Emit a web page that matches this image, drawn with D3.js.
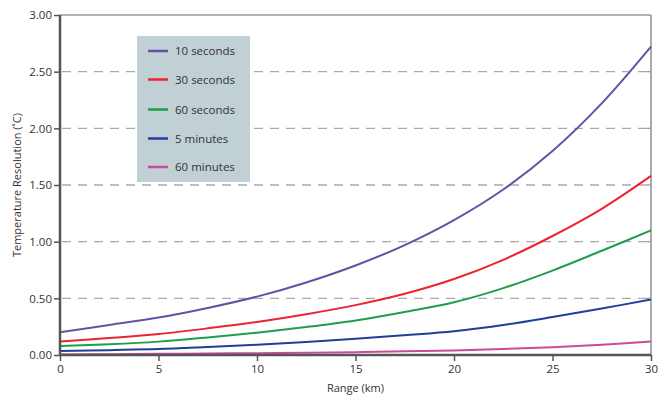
<!DOCTYPE html>
<html>
<head>
<meta charset="utf-8">
<script src="https://cdn.jsdelivr.net/npm/d3@7"></script>
<style>
  body { margin: 0; background: #fff; }
  svg { display: block; font-family: "Open Sans", "Liberation Sans", sans-serif; }
</style>
</head>
<body>
<div id="chart"></div>
<script>
// Range (km) sample points
const range = [0, 2.5, 5, 7.5, 10, 12.5, 15, 17.5, 20, 22.5, 25, 27.5, 30];

// Temperature resolution (°C) per integration time
const tenSeconds    = [0.20, 0.265, 0.33, 0.415, 0.515, 0.64, 0.79, 0.97, 1.19, 1.46, 1.80, 2.22, 2.72];
const thirtySeconds = [0.12, 0.15, 0.185, 0.235, 0.292, 0.36, 0.44, 0.54, 0.67, 0.84, 1.05, 1.29, 1.58];
const sixtySeconds  = [0.08, 0.095, 0.118, 0.155, 0.197, 0.247, 0.305, 0.38, 0.465, 0.59, 0.745, 0.92, 1.10];
const fiveMinutes   = [0.035, 0.043, 0.052, 0.07, 0.09, 0.115, 0.143, 0.175, 0.21, 0.265, 0.335, 0.41, 0.49];
const sixtyMinutes  = [0.005, 0.007, 0.01, 0.013, 0.016, 0.02, 0.025, 0.032, 0.04, 0.053, 0.068, 0.09, 0.12];

const seriesNames = ['10 seconds', '30 seconds', '60 seconds', '5 minutes', '60 minutes'];
const seriesColors = ['#6650a6', '#ee2230', '#1d9f4a', '#1f3f98', '#cc4a9b'];
const seriesValues = [tenSeconds, thirtySeconds, sixtySeconds, fiveMinutes, sixtyMinutes];

const xTicks = [0, 5, 10, 15, 20, 25, 30];
const yTicks = [0, 0.5, 1, 1.5, 2, 2.5, 3];

const width = 668, height = 400;
const margin = { top: 15, right: 17, bottom: 45, left: 60 };

const svg = d3.select('#chart').append('svg')
    .attr('width', width)
    .attr('height', height);

const x = d3.scaleLinear().domain([0, 30]).range([margin.left, width - margin.right]);
const y = d3.scaleLinear().domain([0, 3]).range([height - margin.bottom, margin.top]);

// Dashed grid lines
svg.append('g')
    .selectAll('line')
    .data(yTicks.filter(d => d > 0 && d < 3))
    .enter().append('line')
    .attr('x1', x(0) + 2)
    .attr('x2', x(30))
    .attr('y1', d => y(d))
    .attr('y2', d => y(d))
    .attr('stroke', '#aaaaaa')
    .attr('stroke-width', 1.3)
    .attr('stroke-dasharray', '9,7');

// Top and right frame
svg.append('line')
    .attr('x1', x(0)).attr('x2', x(30))
    .attr('y1', y(3)).attr('y2', y(3))
    .attr('stroke', '#999').attr('stroke-width', 1.5);
svg.append('line')
    .attr('x1', x(30)).attr('x2', x(30))
    .attr('y1', y(3)).attr('y2', y(0))
    .attr('stroke', '#aaa').attr('stroke-width', 2);

// Legend box (drawn over the grid)
const legend = svg.append('g').attr('transform', 'translate(137,36)');
legend.append('rect')
    .attr('width', 113)
    .attr('height', 146)
    .attr('fill', '#c0d0d4');

const rowY = [15, 43.5, 73.5, 102.5, 131];
seriesNames.forEach((name, i) => {
    legend.append('line')
        .attr('x1', 11).attr('x2', 31)
        .attr('y1', rowY[i]).attr('y2', rowY[i])
        .attr('stroke', seriesColors[i])
        .attr('stroke-width', 2.5);
    legend.append('text')
        .attr('x', 38)
        .attr('y', rowY[i])
        .attr('dy', '0.35em')
        .attr('font-size', '11.5px')
        .attr('fill', '#333')
        .text(name);
});

// Curves
const line = d3.line()
    .x((d, i) => x(range[i]))
    .y(d => y(d))
    .curve(d3.curveCatmullRom.alpha(0.5));

seriesValues.slice().reverse().forEach((vals, j) => {
    const i = seriesValues.length - 1 - j;
    svg.append('path')
        .datum(vals)
        .attr('d', line)
        .attr('fill', 'none')
        .attr('stroke', seriesColors[i])
        .attr('stroke-width', 2);
});

// Axes
const xAxis = svg.append('g')
    .attr('transform', `translate(0,${y(0)})`)
    .call(d3.axisBottom(x).tickValues(xTicks).tickSize(6).tickPadding(4).tickFormat(d3.format('d')));
const yAxis = svg.append('g')
    .attr('transform', `translate(${x(0)},0)`)
    .call(d3.axisLeft(y).tickValues(yTicks).tickSize(6).tickPadding(2).tickFormat(d3.format('.2f')));

[xAxis, yAxis].forEach(g => {
    g.select('.domain').attr('stroke', '#555').attr('stroke-width', 2.5);
    g.selectAll('.tick line').attr('stroke', '#555').attr('stroke-width', 1.5);
    g.selectAll('.tick text')
        .attr('fill', '#333')
        .attr('font-size', '11.5px')
        .attr('font-family', '"Open Sans", sans-serif');
});
xAxis.select('.domain').attr('d', `M${x(0)},0H${x(30)}`);
yAxis.select('.domain').attr('d', `M0,${y(0)}V${y(3)}`);

// Right side small inward ticks
svg.append('g')
    .selectAll('line')
    .data(yTicks.filter(d => d > 0 && d < 3))
    .enter().append('line')
    .attr('x1', x(30) - 4).attr('x2', x(30))
    .attr('y1', d => y(d)).attr('y2', d => y(d))
    .attr('stroke', '#999').attr('stroke-width', 1.3);

// Axis titles
svg.append('text')
    .attr('x', (x(0) + x(30)) / 2)
    .attr('y', 392)
    .attr('text-anchor', 'middle')
    .attr('font-size', '11px')
    .attr('fill', '#333')
    .text('Range (km)');

svg.append('text')
    .attr('transform', `translate(21,${(y(0) + y(3)) / 2}) rotate(-90)`)
    .attr('text-anchor', 'middle')
    .attr('font-size', '11px')
    .attr('fill', '#333')
    .text('Temperature Resolution (˚C)');
</script>
</body>
</html>
